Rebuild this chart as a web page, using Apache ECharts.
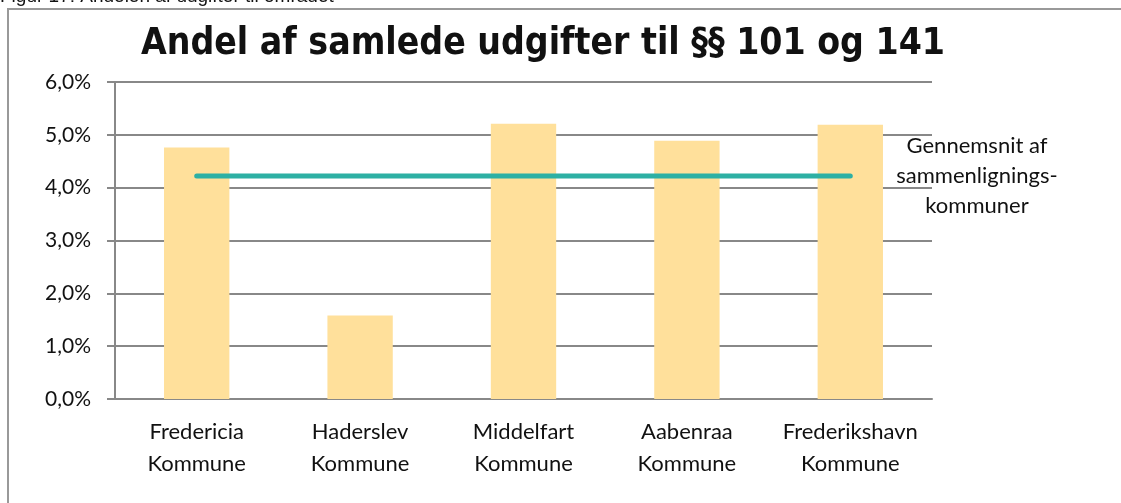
<!DOCTYPE html>
<html>
<head>
<meta charset="utf-8">
<script src="https://cdn.jsdelivr.net/npm/echarts@6/dist/echarts.min.js"></script>
<style>
  html, body { margin: 0; padding: 0; background: #fff; }
  #main { width: 1121px; height: 503px; }
</style>
</head>
<body>
<div id="main"></div>
<script>
// kategorier og værdier (andel i %)
var kommuner = ['Fredericia\nKommune', 'Haderslev\nKommune', 'Middelfart\nKommune', 'Aabenraa\nKommune', 'Frederikshavn\nKommune'];
var andel = [4.76, 1.58, 5.21, 4.89, 5.19];
var gennemsnit = [4.22, 4.22, 4.22, 4.22, 4.22];
var gennemsnitTekst = 'Gennemsnit af\nsammenlignings-\nkommuner';
var titel = 'Andel af samlede udgifter til §§ 101 og 141';
var figurTekst = 'Figur 17: Andelen af udgifter til området';

var chart = echarts.init(document.getElementById('main'));
var fnt = 'Lato, "Open Sans", sans-serif';

chart.setOption({
  animation: false,
  title: {
    text: titel,
    left: 538,
    textAlign: 'center',
    top: 21,
    textStyle: { fontFamily: '"DejaVu Sans Condensed", "DejaVu Sans", sans-serif', fontWeight: 'bold', fontSize: 37, color: '#111' }
  },
  grid: { left: 115, right: 189, top: 82, bottom: 104 },
  xAxis: {
    type: 'category',
    data: kommuner,
    axisLine: { lineStyle: { color: '#888', width: 2 } },
    axisTick: { length: 8, lineStyle: { color: '#888', width: 2 } },
    axisLabel: { interval: 0, hideOverlap: false, fontFamily: fnt, fontSize: 22, color: '#111', lineHeight: 32, margin: 17 }
  },
  yAxis: {
    type: 'value',
    min: 0, max: 6, interval: 1,
    axisLine: { show: true, lineStyle: { color: '#888', width: 2 } },
    axisTick: { show: true, length: 8, lineStyle: { color: '#888', width: 2 } },
    splitLine: { lineStyle: { color: '#888', width: 2 } },
    axisLabel: {
      fontFamily: fnt, fontSize: 21, color: '#111', margin: 24,
      formatter: function (v) { return v.toFixed(1).replace('.', ',') + '%'; }
    }
  },
  series: [
    {
      type: 'bar',
      data: andel,
      barWidth: '40%',
      itemStyle: { color: '#FFE09B' },
      z: 2
    },
    {
      type: 'line',
      data: gennemsnit,
      showSymbol: false,
      lineStyle: { color: '#2DB0A4', width: 5, cap: 'round' },
      z: 3
    }
  ],
  graphic: [
    {
      type: 'rect',
      shape: { x: 8, y: 9, width: 1200, height: 600 },
      style: { fill: 'none', stroke: '#999', lineWidth: 2 },
      z: -1
    },
    {
      type: 'text',
      left: 0, top: -13,
      style: { text: figurTekst, font: '19px "Liberation Sans", Arial, sans-serif', fill: '#111' }
    },
    {
      type: 'text',
      x: 977, y: 131,
      style: {
        text: gennemsnitTekst, align: 'center',
        font: '22px ' + fnt, lineHeight: 30, fill: '#111'
      }
    }
  ]
});
</script>
</body>
</html>
